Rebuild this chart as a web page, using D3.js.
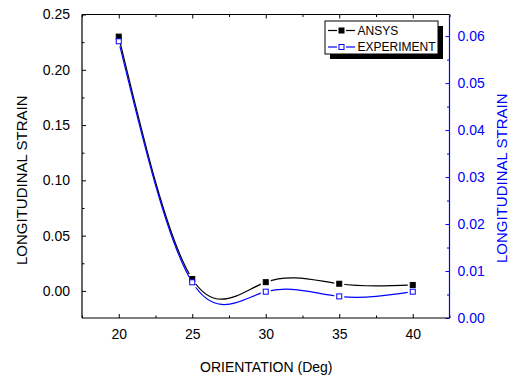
<!DOCTYPE html>
<html>
<head>
<meta charset="utf-8">
<script src="https://cdn.jsdelivr.net/npm/d3@7"></script>
<style>
  html, body { margin: 0; padding: 0; background: #fff; }
  svg { display: block; font-family: "Liberation Sans", Arial, sans-serif; }
</style>
</head>
<body>
<svg id="chart" width="516" height="379"></svg>
<script>
// Orientation angles (deg)
const orientations = [20, 25, 30, 35, 40];
// ANSYS longitudinal strain (left axis)
const ansysStrain = [0.23, 0.0108, 0.0079, 0.0065, 0.0054];
// Experimental longitudinal strain (right axis)
const expStrain = [0.0589, 0.0076, 0.0056, 0.0046, 0.0056];

const xTicks = [20, 25, 30, 35, 40];
const leftTicks = [0.00, 0.05, 0.10, 0.15, 0.20, 0.25];
const rightTicks = [0.00, 0.01, 0.02, 0.03, 0.04, 0.05, 0.06];
const seriesNames = ["ANSYS", "EXPERIMENT"];

const W = 516, H = 379;
const m = { left: 82, top: 14.5, right: 449.5, bottom: 318 };
const blue = "#0000ff";

const svg = d3.select("#chart");

const x = d3.scaleLinear().domain([17.5, 42.5]).range([m.left, m.right]);
const yL = d3.scaleLinear().domain([-0.0245, 0.25]).range([m.bottom, m.top]);
const yR = d3.scaleLinear().domain([0, 0.0646]).range([m.bottom, m.top]);

const tickLen = 4, minorLen = 2.5;

// Bottom axis with inward ticks
const xAxis = svg.append("g").attr("transform", `translate(0,${m.bottom})`)
  .call(d3.axisBottom(x).tickValues(d3.range(17.5, 42.6, 2.5)).tickSize(0).tickFormat(""));
xAxis.select(".domain").remove();
xAxis.selectAll(".tick line").attr("y2", d => (d % 5 === 0 ? -tickLen : -minorLen)).attr("stroke", "#000");
svg.append("g").attr("transform", `translate(0,${m.bottom})`)
  .call(d3.axisBottom(x).tickValues(xTicks).tickSize(0).tickPadding(11).tickFormat(d3.format("d")))
  .call(g => g.select(".domain").remove())
  .selectAll("text").attr("font-size", 14).attr("fill", "#000").attr("font-family", "Liberation Sans, Arial, sans-serif");

// Top axis ticks
const topAxis = svg.append("g").attr("transform", `translate(0,${m.top})`)
  .call(d3.axisTop(x).tickValues(d3.range(17.5, 42.6, 2.5)).tickSize(0).tickFormat(""));
topAxis.select(".domain").remove();
topAxis.selectAll(".tick line").attr("y2", d => (d % 5 === 0 ? tickLen : minorLen)).attr("stroke", "#000");

// Left axis
const leftMinor = d3.range(-0.025, 0.2501, 0.025).filter(v => v >= -0.0245);
const lAxis = svg.append("g").attr("transform", `translate(${m.left},0)`)
  .call(d3.axisLeft(yL).tickValues(leftMinor).tickSize(0).tickFormat(""));
lAxis.select(".domain").remove();
lAxis.selectAll(".tick line")
  .attr("x2", d => (Math.abs(Math.round(d * 1000) % 50) === 0 ? tickLen : minorLen))
  .attr("stroke", "#000");
svg.append("g").attr("transform", `translate(${m.left},0)`)
  .call(d3.axisLeft(yL).tickValues(leftTicks).tickSize(0).tickPadding(12).tickFormat(d3.format(".2f")))
  .call(g => g.select(".domain").remove())
  .selectAll("text").attr("font-size", 14).attr("fill", "#000").attr("font-family", "Liberation Sans, Arial, sans-serif");

// Right axis (blue)
const rightMinor = d3.range(0, 0.0646, 0.005);
const rAxis = svg.append("g").attr("transform", `translate(${m.right},0)`)
  .call(d3.axisRight(yR).tickValues(rightMinor).tickSize(0).tickFormat(""));
rAxis.select(".domain").remove();
rAxis.selectAll(".tick line")
  .attr("x2", d => (Math.round(d * 1000) % 10 === 0 ? -tickLen : -minorLen))
  .attr("stroke", blue);
svg.append("g").attr("transform", `translate(${m.right},0)`)
  .call(d3.axisRight(yR).tickValues(rightTicks).tickSize(0).tickPadding(8).tickFormat(d3.format(".2f")))
  .call(g => g.select(".domain").remove())
  .selectAll("text").attr("font-size", 14).attr("fill", blue).attr("font-family", "Liberation Sans, Arial, sans-serif");

// Frame lines
svg.append("line").attr("x1", m.left).attr("x2", m.right).attr("y1", m.top).attr("y2", m.top).attr("stroke", "#000").attr("stroke-width", 1.2);
svg.append("line").attr("x1", m.left).attr("x2", m.right).attr("y1", m.bottom).attr("y2", m.bottom).attr("stroke", "#000").attr("stroke-width", 1.2);
svg.append("line").attr("x1", m.left).attr("x2", m.left).attr("y1", m.top).attr("y2", m.bottom).attr("stroke", "#000").attr("stroke-width", 1.2);
svg.append("line").attr("x1", m.right).attr("x2", m.right).attr("y1", m.top).attr("y2", m.bottom).attr("stroke", blue).attr("stroke-width", 1.2);

// Series definitions
const series = [
  { name: seriesNames[0], vals: ansysStrain, y: yL, color: "#000", fill: "#000", id: "mA" },
  { name: seriesNames[1], vals: expStrain, y: yR, color: blue, fill: "#fff", id: "mE" }
];
const msize = 6, gap = 2;
const defs = svg.append("defs");

series.forEach(s => {
  const pts = orientations.map((o, i) => [x(o), s.y(s.vals[i])]);
  // mask leaves a small gap in the line around each marker
  const mask = defs.append("mask").attr("id", s.id).attr("maskUnits", "userSpaceOnUse")
    .attr("x", 0).attr("y", 0).attr("width", W).attr("height", H);
  mask.append("rect").attr("width", W).attr("height", H).attr("fill", "#fff");
  mask.selectAll("rect.h").data(pts).join("rect").attr("class", "h")
    .attr("x", d => d[0] - msize / 2 - gap).attr("y", d => d[1] - msize / 2 - gap)
    .attr("width", msize + 2 * gap).attr("height", msize + 2 * gap).attr("fill", "#000");

  svg.append("path")
    .attr("d", d3.line().curve(d3.curveNatural)(pts))
    .attr("fill", "none").attr("stroke", s.color).attr("stroke-width", 1.2)
    .attr("mask", `url(#${s.id})`);
  svg.selectAll(null).data(pts).join("rect")
    .attr("x", d => d[0] - msize / 2 + 0.5).attr("y", d => d[1] - msize / 2 + 0.5)
    .attr("width", msize - 1).attr("height", msize - 1)
    .attr("fill", s.fill).attr("stroke", s.color).attr("stroke-width", 1);
});

// Legend with drop shadow
const lg = { x: 325, y: 21, w: 113, h: 33, sh: 5 };
svg.append("rect").attr("x", lg.x + lg.sh).attr("y", lg.y + lg.sh).attr("width", lg.w).attr("height", lg.h).attr("fill", "#000");
svg.append("rect").attr("x", lg.x).attr("y", lg.y).attr("width", lg.w).attr("height", lg.h).attr("fill", "#fff").attr("stroke", "#000").attr("stroke-width", 1);
series.forEach((s, i) => {
  const cy = lg.y + 9.5 + i * 16.5;
  const gL = svg.append("g");
  gL.append("line").attr("x1", 328).attr("x2", 337).attr("y1", cy).attr("y2", cy).attr("stroke", s.color).attr("stroke-width", 1.2);
  gL.append("line").attr("x1", 346).attr("x2", 355).attr("y1", cy).attr("y2", cy).attr("stroke", s.color).attr("stroke-width", 1.2);
  gL.append("rect").attr("x", 341.5 - msize / 2 + 0.5).attr("y", cy - msize / 2 + 0.5)
    .attr("width", msize - 1).attr("height", msize - 1)
    .attr("fill", s.fill).attr("stroke", s.color).attr("stroke-width", 1);
  gL.append("text").attr("x", 357.5).attr("y", cy).attr("dy", "0.36em")
    .attr("font-size", 12).attr("fill", "#000").text(s.name);
});

// Axis titles
svg.append("text").attr("x", (m.left + m.right) / 2 + 0.5).attr("y", 367).attr("dy", "0.36em")
  .attr("text-anchor", "middle").attr("font-size", 14).attr("fill", "#000").text("ORIENTATION (Deg)");
svg.append("text").attr("transform", `translate(22,${(m.top + m.bottom) / 2 + 14}) rotate(-90)`).attr("dy", "0.36em")
  .attr("text-anchor", "middle").attr("font-size", 15).attr("fill", "#000").text("LONGITUDINAL STRAIN");
svg.append("text").attr("transform", `translate(502,${(m.top + m.bottom) / 2 + 12}) rotate(-90)`).attr("dy", "0.36em")
  .attr("text-anchor", "middle").attr("font-size", 15).attr("fill", blue).text("LONGITUDINAL STRAIN");
</script>
</body>
</html>
